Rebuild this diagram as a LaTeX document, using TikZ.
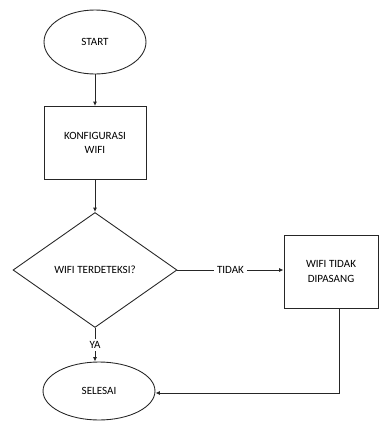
\documentclass[tikz,border=0pt]{standalone}
\usepackage{fontspec}
\setmainfont{Carlito}
\usepackage{tikz}
\usetikzlibrary{positioning,shapes.geometric,arrows.meta}
\tikzset{terminal/.style={draw=black!85, ellipse, line width=0.5pt, font=\fontsize{6.3}{8}\selectfont},
  proses/.style={draw=black!85, rectangle, line width=0.5pt, align=center, font=\fontsize{6.3}{8}\selectfont},
  cabang/.style={draw=black!85, diamond, line width=0.5pt, inner sep=0pt, font=\fontsize{6.3}{8}\selectfont},
  garis/.style={draw=black!85, line width=0.5pt, -{Latex[length=2.5pt,width=2.2pt]}},
  ket/.style={fill=white, inner sep=1.5pt, font=\fontsize{6.3}{8}\selectfont}}

\begin{document}
\begin{tikzpicture}[x=0.02cm,y=-0.02cm]
\useasboundingbox (0,0) rectangle (380,423);
\node[terminal, minimum width=2.04cm, minimum height=1.28cm] (start) at (95,42) {START};
\node[proses, minimum width=2.04cm, minimum height=1.46cm] (konfig) at (95,143) {KONFIGURASI\\WIFI};
\node[cabang, minimum width=3.28cm, minimum height=2.3cm] (cek) at (95,270) {WIFI TERDETEKSI?};
\node[proses, minimum width=1.88cm, minimum height=1.46cm] (pasang) at (331,271.5) {WIFI TIDAK\\DIPASANG};
\node[terminal, minimum width=2.24cm, minimum height=1.16cm] (selesai) at (99,391) {SELESAI};

\draw[garis] (start) -- (konfig);
\draw[garis] (konfig) -- (cek);
\draw[garis] (cek.east) -- node[ket] {TIDAK} (cek.east -| pasang.west);
\draw[garis] (cek.south) -- node[ket, pos=0.5] {YA} (cek.south |- selesai.north);
\draw[garis] ([xshift=0.16cm]pasang.south) |- ([yshift=-0.04cm]selesai.east);
\end{tikzpicture}
\end{document}
